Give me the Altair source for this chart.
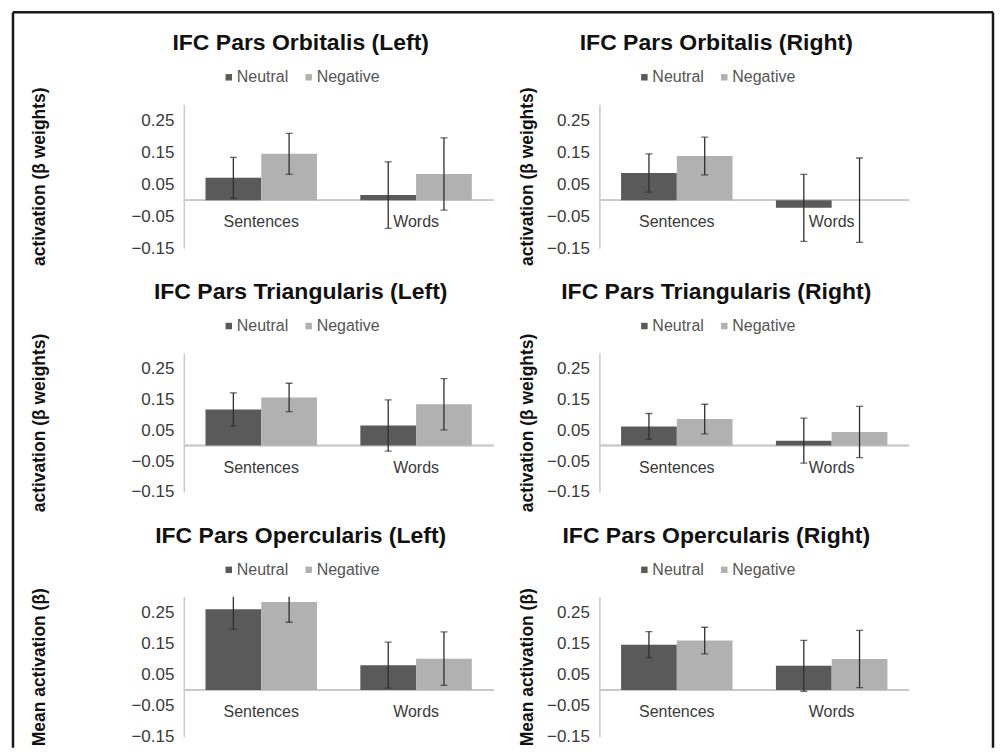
import altair as alt
import pandas as pd

categories = ["Sentences", "Words"]
conditions = ["Neutral", "Negative"]

panel_titles = [
    "IFC Pars Orbitalis (Left)", "IFC Pars Orbitalis (Right)",
    "IFC Pars Triangularis (Left)", "IFC Pars Triangularis (Right)",
    "IFC Pars Opercularis (Left)", "IFC Pars Opercularis (Right)",
]
y_titles = [
    "activation (β weights)", "activation (β weights)",
    "activation (β weights)", "activation (β weights)",
    "Mean activation (β)", "Mean activation (β)",
]

# order: Sentences-Neutral, Sentences-Negative, Words-Neutral, Words-Negative
orb_left_mean = [0.070, 0.145, 0.016, 0.082]
orb_left_err = [0.064, 0.064, 0.104, 0.113]
orb_right_mean = [0.085, 0.138, -0.024, 0.000]
orb_right_err = [0.060, 0.059, 0.105, 0.132]
tri_left_mean = [0.117, 0.156, 0.065, 0.134]
tri_left_err = [0.054, 0.046, 0.083, 0.083]
tri_right_mean = [0.062, 0.086, 0.016, 0.044]
tri_right_err = [0.042, 0.048, 0.073, 0.083]
ope_left_mean = [0.260, 0.283, 0.080, 0.101]
ope_left_err = [0.065, 0.065, 0.074, 0.086]
ope_right_mean = [0.146, 0.159, 0.078, 0.100]
ope_right_err = [0.042, 0.043, 0.082, 0.092]

y_ticks = [-0.15, -0.05, 0.05, 0.15, 0.25]
y_domain = [-0.15, 0.30]

NEUTRAL = "#5a5a5a"
NEGATIVE = "#b1b1b1"
FONT = "Liberation Sans"
PLOT_W = 310
ROW_H = [144, 139, 140]


def panel(title, ytitle, means, errs, height, is_left, frame=False):
    df = pd.DataFrame({
        "category": [c for c in categories for _ in conditions],
        "condition": conditions * 2,
        "mean": means,
        "err": errs,
    })
    df["lo"] = df["mean"] - df["err"]
    df["hi"] = df["mean"] + df["err"]
    base = alt.Chart(df)
    x = alt.X("category:N", sort=categories,
              scale=alt.Scale(paddingInner=0.28, paddingOuter=0.14), axis=None)
    xo = alt.XOffset("condition:N", sort=conditions,
                     scale=alt.Scale(paddingInner=0, paddingOuter=0))
    yscale = alt.Scale(domain=y_domain, nice=False, zero=False)
    yaxis = alt.Axis(title=ytitle, values=y_ticks, format=".2f",
                     labelOverlap=False, labelFlush=False,
                     titlePadding=82 if is_left else 10)
    bars = base.mark_bar(stroke=None).encode(
        x=x, xOffset=xo,
        y=alt.Y("mean:Q", stack=None, scale=yscale, axis=yaxis),
        color=alt.Color(
            "condition:N", sort=conditions,
            scale=alt.Scale(domain=conditions, range=[NEUTRAL, NEGATIVE]),
            legend=alt.Legend(orient="none", legendX=37, legendY=-35,
                              direction="horizontal", title=None,
                              symbolType="square", symbolSize=42,
                              symbolStrokeWidth=0, labelFontSize=16,
                              labelColor="#555555", labelFont=FONT,
                              columnPadding=12, labelOffset=0)),
    )
    zero = base.mark_rule(color="#c9c9c9", strokeWidth=1.5).encode(
        y=alt.datum(0, scale=yscale, axis=yaxis))
    rules = base.mark_rule(color="#2e2e2e", strokeWidth=1.3, clip=True).encode(
        x=x, xOffset=xo, y=alt.Y("lo:Q", scale=yscale, axis=yaxis), y2="hi:Q")
    caps_hi = base.mark_tick(color="#2e2e2e", size=7, thickness=1.3, clip=True).encode(
        x=x, xOffset=xo, y=alt.Y("hi:Q", scale=yscale, axis=yaxis))
    caps_lo = base.mark_tick(color="#2e2e2e", size=7, thickness=1.3, clip=True).encode(
        x=x, xOffset=xo, y=alt.Y("lo:Q", scale=yscale, axis=yaxis))
    cat_df = pd.DataFrame({"category": categories, "zero": [0, 0]})
    labels = alt.Chart(cat_df).mark_text(
        fontSize=16, color="#3a3a3a", font=FONT, dy=22, baseline="middle"
    ).encode(x=x, y=alt.Y("zero:Q", scale=yscale, axis=yaxis), text="category:N")
    layers = [zero, bars, rules, caps_hi, caps_lo, labels]
    title_offset = 14
    if frame:
        one = alt.Chart(pd.DataFrame({"k": [0]}))
        fr = dict(color="#1a1a1a", strokeWidth=2.5)
        layers += [
            one.mark_rule(**fr).encode(x=alt.value(-171), y=alt.value(-92), y2=alt.value(644)),
            one.mark_rule(**fr).encode(x=alt.value(-171), x2=alt.value(810), y=alt.value(-92)),
            one.mark_rule(**fr).encode(x=alt.value(810), y=alt.value(-92), y2=alt.value(644)),
        ]
        title_offset = -44
    return alt.layer(*layers).properties(
        width=PLOT_W, height=height,
        title=alt.TitleParams(title, fontSize=23, fontWeight="bold", font=FONT,
                              anchor="middle", dx=-38, offset=title_offset,
                              color="#111111"),
    )


means = [orb_left_mean, orb_right_mean, tri_left_mean, tri_right_mean, ope_left_mean, ope_right_mean]
errs = [orb_left_err, orb_right_err, tri_left_err, tri_right_err, ope_left_err, ope_right_err]

panels = []
for i in range(6):
    panels.append(panel(panel_titles[i], y_titles[i], means[i], errs[i],
                        ROW_H[i // 2], i % 2 == 0, frame=(i == 0)))

chart = alt.concat(*panels, columns=2, spacing={"row": 105, "column": 106},
                   bounds="flush").resolve_scale(
    color="independent", y="independent").resolve_legend(color="independent").properties(
    padding={"left": 3, "top": 2, "right": 0, "bottom": 0}
).configure(font=FONT).configure_view(stroke=None).configure_axisY(
    domainColor="#c9c9c9", domainWidth=1.5, grid=False, ticks=False, tickSize=0,
    labelFontSize=17, labelColor="#3a3a3a", labelPadding=10, labelFont=FONT,
    labelOverlap=False,
    titleFontSize=17.5, titleFontWeight="bold", titleColor="#111111", titleFont=FONT,
).configure_axis(labelOverlap=False).configure_legend(symbolStrokeWidth=0)

chart.save("out.html", embed_options={"renderer": "svg", "actions": False})
